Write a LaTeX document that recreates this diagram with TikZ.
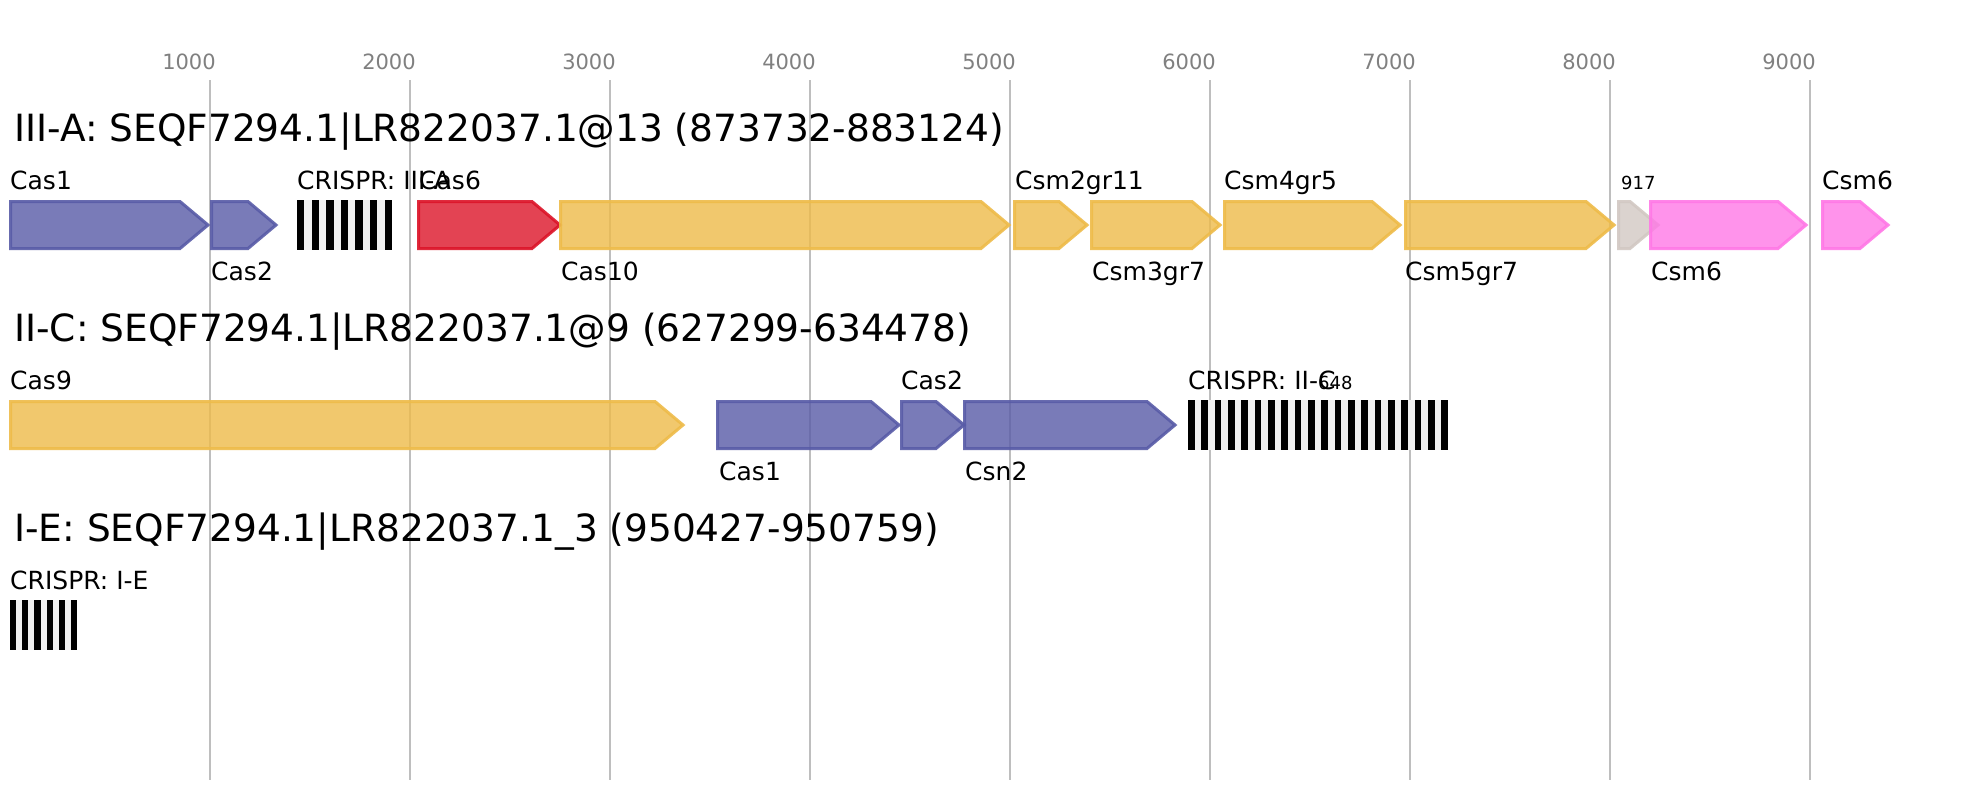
\documentclass[tikz,border=0pt]{standalone}
\usepackage{fontspec}
\setmainfont{DejaVu Sans}
\definecolor{cBlue}{RGB}{88,91,167}
\definecolor{cYel}{RGB}{238,187,73}
\definecolor{cRed}{RGB}{220,20,40}
\definecolor{cPink}{RGB}{255,120,230}
\definecolor{cGrey}{RGB}{210,200,195}
\definecolor{crBg}{RGB}{240,240,240}
\definecolor{gridc}{RGB}{190,190,190}
\definecolor{tickc}{RGB}{128,128,128}
\tikzset{
  gene/.style={line width=3pt, line join=miter, fill opacity=0.8, draw opacity=0.9},
  gBlue/.style={gene, draw=cBlue, fill=cBlue},
  gYel/.style={gene, draw=cYel, fill=cYel},
  gRed/.style={gene, draw=cRed, fill=cRed},
  gPink/.style={gene, draw=cPink, fill=cPink},
  gGrey/.style={gene, draw=cGrey, fill=cGrey},
  lab/.style={inner sep=0pt, anchor=base west, font=\fontsize{25}{30}\selectfont},
  smlab/.style={inner sep=0pt, anchor=base west, font=\fontsize{18}{22}\selectfont},
  ttl/.style={inner sep=0pt, anchor=base west, font=\fontsize{37.5}{45}\selectfont},
  tick/.style={inner sep=0pt, anchor=base, text=tickc, font=\fontsize{21}{25}\selectfont},
  gridln/.style={draw=gridc, line width=2pt}
}
% gene arrow: #1 start px, #2 tip px, #3 top px, #4 style
\newcommand{\gArrow}[4]{%
  \pgfmathsetmacro{\gS}{#1+1.5}%
  \pgfmathsetmacro{\gT}{#2-2}%
  \pgfmathsetmacro{\gB}{max(\gS,\gT-28)}%
  \draw[#4] (\gS,#3+1.5) -- (\gB,#3+1.5) -- (\gT,#3+25) -- (\gB,#3+48.5) -- (\gS,#3+48.5) -- cycle;}
% CRISPR array: #1 start px, #2 top px, #3 number of bars, #4 period
\newcommand{\crArr}[4]{%
  \fill[crBg] (#1,#2) rectangle ({#1+(#3-1)*#4+#4/2},#2+50);
  \foreach \k in {1,...,#3}{\fill[black] ({#1+(\k-1)*#4},#2) rectangle ({#1+(\k-1)*#4+#4/2},#2+50);}}
\begin{document}
\begin{tikzpicture}[x=1pt,y=-1pt]
\useasboundingbox[fill=white] (0,0) rectangle (1978,800);
% grid and scale
\foreach \v in {1,...,9}{
  \draw[gridln] ({10+200*\v},80) -- ({10+200*\v},780);
  \node[tick] (t\v) at ({10+200*\v-21},70) {\v000};
}
% ---------- III-A ----------
\node[ttl] (titleA) at (14,141) {III-A: SEQF7294.1|LR822037.1@13 (873732-883124)};
\gArrow{9}{210}{200}{gBlue}
\gArrow{210}{278}{200}{gBlue}
\crArr{297}{200}{7}{14.6}
\gArrow{417}{562}{200}{gRed}
\gArrow{559}{1011}{200}{gYel}
\gArrow{1013}{1089}{200}{gYel}
\gArrow{1090}{1222}{200}{gYel}
\gArrow{1223}{1402}{200}{gYel}
\gArrow{1404}{1616}{200}{gYel}
\gArrow{1617}{1660}{200}{gGrey}
\gArrow{1649}{1808}{200}{gPink}
\gArrow{1821}{1890}{200}{gPink}
\node[lab] (a1) at (10,189) {Cas1};
\node[lab] (a2) at (297,189) {CRISPR: III-A};
\node[lab] (a3) at (419,189) {Cas6};
\node[lab] (a4) at (1015,189) {Csm2gr11};
\node[lab] (a5) at (1224,189) {Csm4gr5};
\node[smlab] (a6) at (1621,189) {917};
\node[lab] (a7) at (1822,189) {Csm6};
\node[lab] (b1) at (211,280) {Cas2};
\node[lab] (b2) at (561,280) {Cas10};
\node[lab] (b3) at (1092,280) {Csm3gr7};
\node[lab] (b4) at (1405,280) {Csm5gr7};
\node[lab] (b5) at (1651,280) {Csm6};
% ---------- II-C ----------
\node[ttl] (titleB) at (14,341) {II-C: SEQF7294.1|LR822037.1@9 (627299-634478)};
\gArrow{9}{685}{400}{gYel}
\gArrow{716}{901}{400}{gBlue}
\gArrow{900}{966}{400}{gBlue}
\gArrow{963}{1177}{400}{gBlue}
\crArr{1188}{400}{20}{13.33}
\node[lab] (c1) at (10,389) {Cas9};
\node[lab] (c2) at (901,389) {Cas2};
\node[lab] (c3) at (1188,389) {CRISPR: II-C};
\node[smlab] (c4) at (1318,389) {648};
\node[lab] (d1) at (719,480) {Cas1};
\node[lab] (d2) at (965,480) {Csn2};
% ---------- I-E ----------
\node[ttl] (titleC) at (14,541) {I-E: SEQF7294.1|LR822037.1\_3 (950427-950759)};
\crArr{10}{600}{6}{12.2}
\node[lab] (e1) at (10,589) {CRISPR: I-E};
\end{tikzpicture}
\end{document}
